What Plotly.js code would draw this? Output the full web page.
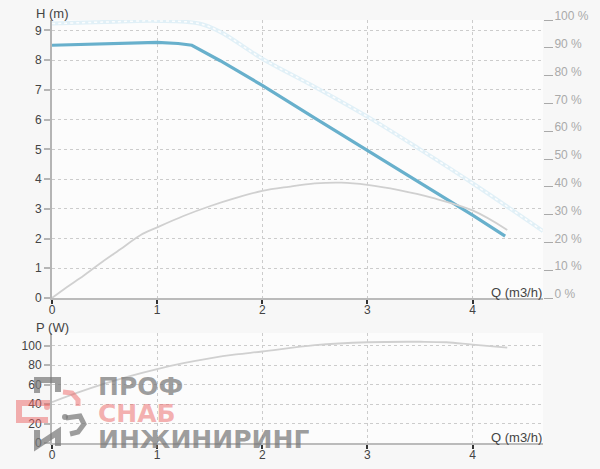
<!DOCTYPE html>
<html><head><meta charset="utf-8">
<script src="https://cdn.plot.ly/plotly-3.0.1.min.js"></script>
<style>html,body{margin:0;padding:0;background:#f7f7f7}</style>
</head><body><div id="chart" style="width:600px;height:469px"></div>
<script>
// Head curve (current setting)
const qHead = [0, 0.2, 0.4, 0.6, 0.8, 1.0, 1.2, 1.33, 1.6, 2.0, 2.5, 3.0, 3.5, 4.0, 4.31];
const head  = [8.5, 8.52, 8.55, 8.58, 8.6, 8.6, 8.56, 8.5, 7.98, 7.15, 6.05, 4.97, 3.9, 2.79, 2.08];
// Head curve (max setting, faded)
const qMax = [0, 0.5, 1.0, 1.4, 1.6, 2.0, 2.5, 3.0, 3.5, 4.0, 4.67];
const headMax = [9.23, 9.28, 9.32, 9.23, 8.95, 8.05, 7.1, 6.1, 5.0, 3.86, 2.25];
// Efficiency (%)
const qEff = [0, 0.14, 0.3, 0.46, 0.65, 0.84, 1.0, 1.25, 1.5, 1.75, 2.0, 2.25, 2.5, 2.75, 3.0, 3.3, 3.62, 4.0, 4.33];
const eff  = [0, 3.9, 8, 12.5, 17.5, 22.6, 25.4, 29.5, 33, 36, 38.5, 40, 41.2, 41.5, 40.7, 38.8, 36, 31.5, 24.5];
// Power (W)
const qPow = [0, 0.25, 0.5, 0.75, 1.0, 1.25, 1.5, 1.75, 2.0, 2.5, 3.0, 3.5, 3.75, 4.0, 4.33];
const power = [42, 52, 61, 69, 76, 82, 87, 91, 94, 100.5, 103.5, 104, 103.5, 101, 98];
// Axis texts
const hTitle = "H (m)", pTitle = "P (W)", qTitle = "Q (m3/h)";
const logoLines = ["ПРОФ", "СНАБ", "ИНЖИНИРИНГ"];

const L = 52, R = 543, T = 20, B = 443;
function px(x){ return (x - L) / (R - L); }
function py(y){ return (B - y) / (B - T); }
function path(pts){ return pts.map((p,i)=> (i? 'L':'M') + px(p[0]).toFixed(4) + ',' + py(p[1]).toFixed(4)).join(' '); }

const gray = '#d0d0d0';
const traces = [
  {x: qEff, y: eff, xaxis:'x', yaxis:'y2', mode:'lines', line:{color:gray, width:1.8, shape:'spline'}, hoverinfo:'skip'},
  {x: qMax, y: headMax, xaxis:'x', yaxis:'y', mode:'lines', line:{color:'#e1f0f7', width:4, shape:'spline'}, hoverinfo:'skip'},
  {x: qMax, y: headMax, xaxis:'x', yaxis:'y', mode:'lines', line:{color:'#fbfdfe', width:1.5, dash:'dot', shape:'spline'}, hoverinfo:'skip'},
  {x: qHead, y: head, xaxis:'x', yaxis:'y', mode:'lines', line:{color:'#68b0cc', width:3.2}, hoverinfo:'skip'},
  {x: qPow, y: power, xaxis:'x2', yaxis:'y3', mode:'lines', line:{color:gray, width:1.8, shape:'spline'}, hoverinfo:'skip'}
];

const fontMain = {family:'Liberation Sans, Arial, sans-serif', size:12, color:'#444'};
const xCommon = {range:[0,4.67], dtick:1, showgrid:true, gridcolor:'#cccccc', griddash:'dot', gridwidth:1,
  zeroline:false, showline:true, linecolor:'#bbbbbb', linewidth:2, ticks:'outside', ticklen:4, tickwidth:2, tickcolor:'#333',
  tickfont:fontMain, ticklabelstandoff:-4, fixedrange:true};
const yCommon = {showgrid:true, gridcolor:'#cccccc', griddash:'dot', gridwidth:1, zeroline:false, showline:true,
  linecolor:'#b5b5b5', linewidth:2, ticks:'outside', ticklen:6, tickwidth:2, tickcolor:'#b5b5b5', tickfont:fontMain, fixedrange:true};

const textAnn = (t, x, y, extra) => Object.assign({text:t, xref:'paper', yref:'paper', x:px(x), y:py(y), xanchor:'left', yanchor:'middle',
  showarrow:false, font:{family:'Liberation Sans, Arial, sans-serif', size:13, color:'#444'}}, extra||{});

const logoFont = (c) => ({family:'DejaVu Sans, sans-serif', size:25, color:c, weight:'bold'});

const layout = {
  width:600, height:469,
  margin:{l:L, r:600-R, t:T, b:469-B},
  paper_bgcolor:'#f7f7f7', plot_bgcolor:'#fcfcfc',
  showlegend:false,
  xaxis: Object.assign({}, xCommon, {anchor:'y', domain:[0,1]}),
  xaxis2: Object.assign({}, xCommon, {anchor:'y3', domain:[0,1]}),
  yaxis: Object.assign({}, yCommon, {range:[0,9.35], dtick:1, domain:[py(298),1], anchor:'x'}),
  yaxis2: {overlaying:'y', side:'right', range:[0,100], dtick:10, ticksuffix:' %', showgrid:false, zeroline:false, showline:false,
    ticks:'outside', ticklen:9, tickwidth:1, tickcolor:'#aaa', ticklabelshift:-4, ticklabelstandoff:-1,
    tickfont:{family:'Liberation Sans, Arial, sans-serif', size:12, color:'#aaa'}, anchor:'x', fixedrange:true},
  yaxis3: Object.assign({}, yCommon, {range:[0,113], dtick:20, domain:[0,py(333)], anchor:'x2'}),
  annotations:[
    textAnn(hTitle, 34, 13),
    textAnn(pTitle, 34, 327),
    textAnn(qTitle, 489, 293),
    textAnn(qTitle, 489, 437),
    textAnn(logoLines[0], 96, 386, {font:logoFont('rgba(120,120,120,0.72)')}),
    textAnn(logoLines[1], 96, 413, {font:logoFont('rgba(235,100,100,0.5)')}),
    textAnn(logoLines[2], 96, 439, {font:logoFont('rgba(120,120,120,0.72)')})
  ],
  shapes:[
    {type:'path', xref:'paper', yref:'paper', path:path([[50,403],[19,403],[19,420],[48,420]]), line:{color:'rgba(235,100,100,0.5)', width:6}},
    {type:'path', xref:'paper', yref:'paper', path:path([[37,393],[37,380],[58,380],[58,392]]), line:{color:'rgba(120,120,120,0.72)', width:6}},
    {type:'path', xref:'paper', yref:'paper', path:path([[37,430],[37,446],[58,432],[58,446]]), line:{color:'rgba(120,120,120,0.72)', width:6}},
    {type:'path', xref:'paper', yref:'paper', path:path([[63,392],[72,393],[78,400],[78,406]]), line:{color:'rgba(235,100,100,0.5)', width:5}},
    {type:'path', xref:'paper', yref:'paper', path:path([[66,418],[80,416],[84,424],[78,432],[70,434]]), line:{color:'rgba(120,120,120,0.72)', width:5}},
    {type:'circle', xref:'paper', yref:'paper', x0:px(44), x1:px(50), y0:py(404), y1:py(410), fillcolor:'rgba(235,100,100,0.5)', line:{width:0}},
    {type:'circle', xref:'paper', yref:'paper', x0:px(62), x1:px(68), y0:py(414), y1:py(420), fillcolor:'rgba(120,120,120,0.72)', line:{width:0}}
  ]
};

Plotly.newPlot('chart', traces, layout, {displayModeBar:false, staticPlot:true});
</script>
</body></html>
